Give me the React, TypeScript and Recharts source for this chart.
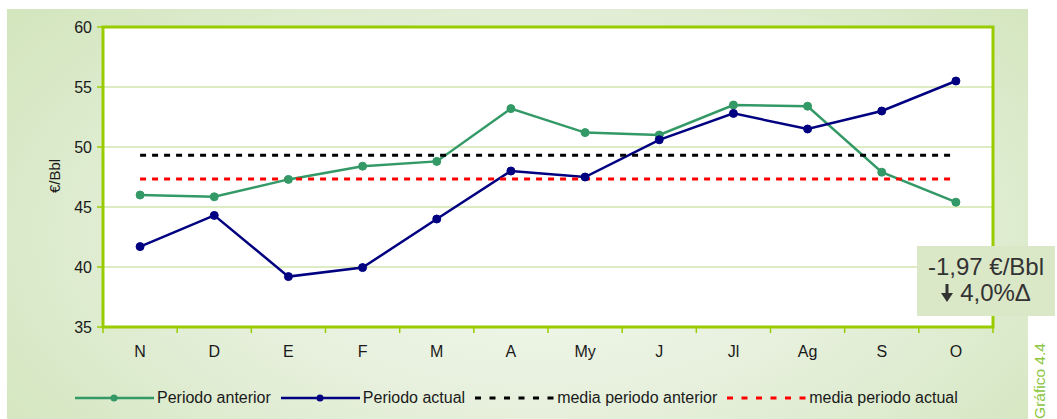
import React from 'react';
import { LineChart, Line, XAxis, YAxis, CartesianGrid, Legend, ReferenceArea } from 'recharts';

// meses del periodo (nov - oct)
const months = ['N', 'D', 'E', 'F', 'M', 'A', 'My', 'J', 'Jl', 'Ag', 'S', 'O'];
const periodoAnterior = [46.0, 45.85, 47.3, 48.4, 48.8, 53.2, 51.2, 51.0, 53.5, 53.4, 47.9, 45.4];
const periodoActual = [41.7, 44.3, 39.2, 39.95, 44.0, 48.0, 47.5, 50.6, 52.8, 51.5, 53.0, 55.5];
const mediaAnterior = 49.31;
const mediaActual = 47.34;
const yTicks = [35, 40, 45, 50, 55, 60];

// x numérico: cada mes ocupa una banda [i, i+1], el punto va en el centro
const data = months.map((m, i) => ({
  pos: i + 0.5,
  mes: m,
  anterior: periodoAnterior[i],
  actual: periodoActual[i],
  mediaAnt: mediaAnterior,
  mediaAct: mediaActual,
}));
const xTicks = months.flatMap((_, i) => [i, i + 0.5]).concat(months.length);

const FONT = "Arial, 'Liberation Sans', sans-serif";
const LIME = '#99cc00';
const legendOrder = ['anterior', 'actual', 'mediaAnt', 'mediaAct'];

function LegendContent(props: any) {
  const items = [...(props.payload || [])].sort(
    (a: any, b: any) => legendOrder.indexOf(String(a.dataKey)) - legendOrder.indexOf(String(b.dataKey)));
  return (
    <div style={{ display: 'flex', alignItems: 'center', fontFamily: FONT, fontSize: 16, color: '#1a1a1a', whiteSpace: 'nowrap' }}>
      {items.map((it: any) => {
        const dashed = String(it.dataKey).startsWith('media');
        return (
          <div key={String(it.dataKey)} style={{ display: 'flex', alignItems: 'center', marginRight: 10 }}>
            <svg width={80} height={12} style={{ marginRight: 2 }}>
              <line x1={0} y1={6} x2={79} y2={6} stroke={it.color} strokeWidth={dashed ? 3 : 2.5}
                strokeDasharray={dashed ? '6 8.5' : undefined} />
              {!dashed && <circle cx={39} cy={6} r={3.5} fill={it.color} />}
            </svg>
            <span>{it.value}</span>
          </div>
        );
      })}
    </div>
  );
}

const XTick = (props: any) => {
  const { x, y, payload } = props;
  const v = Number(payload.value);
  if (Number.isInteger(v)) {
    return <line x1={x} y1={y} x2={x} y2={y + 6} stroke={LIME} strokeWidth={1.5} />;
  }
  return (
    <text x={x} y={y + 30} textAnchor="middle" fontFamily={FONT} fontSize={16} fill="#1a1a1a">
      {months[Math.floor(v)]}
    </text>
  );
};

const YLabel = (props: any) => {
  const vb = props.viewBox || { x: 43, y: 27, width: 60, height: 300 };
  const x = vb.x + 17;
  const y = vb.y + vb.height / 2 - 1;
  return (
    <text x={x} y={y} transform={`rotate(-90, ${x}, ${y})`} textAnchor="middle"
      fontFamily={FONT} fontSize={15} fill="#1a1a1a">€/Bbl</text>
  );
};

export default function App() {
  return (
    <div style={{ position: 'absolute', left: 0, top: 0, width: 1057, height: 419, overflow: 'hidden', background: '#fff' }}>
      <div style={{
        position: 'absolute', left: 7, top: 9, width: 1021, height: 410,
        background: 'radial-gradient(ellipse 70% 95% at 52% 55%, #f4f9f0 0%, #e6f0dc 45%, #d0e4b9 100%)',
      }} />
      <div style={{ position: 'absolute', left: 0, top: 0 }}>
        <LineChart width={1057} height={419} data={data} margin={{ top: 27, right: 64, bottom: 62, left: 43 }}>
          <CartesianGrid vertical={false} stroke="#bcd886" fill="#ffffff" />
          <XAxis dataKey="pos" type="number" domain={[0, months.length]} allowDataOverflow ticks={xTicks}
            interval={0} height={30} axisLine={false} tickLine={false} tickSize={0} tickMargin={0}
            tick={<XTick />} />
          <YAxis domain={[35, 60]} ticks={yTicks} width={60} axisLine={false} allowDataOverflow
            tickSize={6} tickMargin={5} tickLine={{ stroke: LIME, strokeWidth: 1.5 }}
            tick={{ fontFamily: FONT, fontSize: 16, fill: '#1a1a1a' }}
            label={{ content: YLabel }} />
          <ReferenceArea x1={0} x2={months.length} y1={35} y2={60} fill="none" stroke={LIME} strokeWidth={3} />
          <Line type="linear" dataKey="anterior" name="Periodo anterior" stroke="#339966" strokeWidth={2.5}
            dot={{ r: 4, fill: '#339966', stroke: '#339966', strokeWidth: 1 }} activeDot={false} isAnimationActive={false} />
          <Line type="linear" dataKey="actual" name="Periodo actual" stroke="#000080" strokeWidth={2.5}
            dot={{ r: 4, fill: '#000080', stroke: '#000080', strokeWidth: 1 }} activeDot={false} isAnimationActive={false} />
          <Line type="linear" dataKey="mediaAnt" name="media periodo anterior" stroke="#000000" strokeWidth={3}
            strokeDasharray="6 6" dot={false} activeDot={false} isAnimationActive={false} />
          <Line type="linear" dataKey="mediaAct" name="media periodo actual" stroke="#ff0000" strokeWidth={3}
            strokeDasharray="6 6" dot={false} activeDot={false} isAnimationActive={false} />
          <Legend layout="horizontal" verticalAlign="middle" align="center" content={LegendContent}
            wrapperStyle={{ left: 75, top: 389, width: 'auto' }} />
        </LineChart>
      </div>
      <div style={{
        position: 'absolute', left: 917, top: 246, width: 138, height: 70, background: '#dbe8c7',
        fontFamily: FONT, fontSize: 24, color: '#333', textAlign: 'center', lineHeight: '26px',
        paddingTop: 8, boxSizing: 'border-box',
      }}>
        <div>-1,97 €/Bbl</div>
        <div style={{ display: 'flex', justifyContent: 'center', alignItems: 'center' }}>
          <svg width={12} height={18} style={{ marginRight: 7 }}>
            <rect x={4.5} y={0} width={3} height={11} fill="#333" />
            <polygon points="0,9 12,9 6,18" fill="#333" />
          </svg>
          <span>4,0%Δ</span>
        </div>
      </div>
      <div style={{
        position: 'absolute', left: 1040, top: 381, transform: 'translate(-50%, -50%) rotate(-90deg)',
        fontFamily: FONT, fontSize: 15.5, color: '#8cc63f', whiteSpace: 'nowrap',
      }}>Gráfico 4.4</div>
    </div>
  );
}
